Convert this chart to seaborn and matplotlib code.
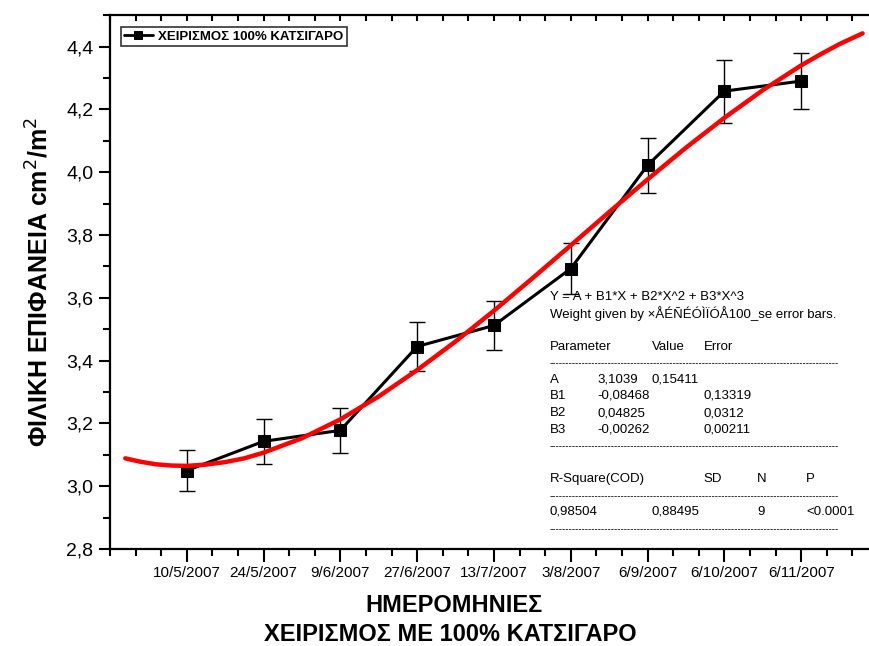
import matplotlib
matplotlib.use("Agg")
import matplotlib.pyplot as plt
import seaborn as sns
import numpy as np
import pandas as pd
from matplotlib.ticker import MultipleLocator, FuncFormatter

dates = ["10/5/2007", "24/5/2007", "9/6/2007", "27/6/2007", "13/7/2007",
         "3/8/2007", "6/9/2007", "6/10/2007", "6/11/2007"]
x_pos = [1, 2, 3, 4, 5, 6, 7, 8, 9]
values = [3.050, 3.143, 3.178, 3.445, 3.512, 3.693, 4.022, 4.258, 4.290]
errors = [0.065, 0.072, 0.072, 0.078, 0.078, 0.082, 0.088, 0.100, 0.090]

fit_x = [0.2, 0.4, 0.6, 0.8, 1.0, 1.25, 1.5, 1.75, 2.0, 2.5, 3.0, 3.5, 4.0,
         4.5, 5.0, 5.5, 6.0, 6.5, 7.0, 7.5, 8.0, 8.5, 9.0, 9.25, 9.5, 9.8]
fit_y = [3.089, 3.078, 3.070, 3.066, 3.065, 3.069, 3.077, 3.089, 3.107,
         3.153, 3.213, 3.286, 3.370, 3.461, 3.559, 3.662, 3.767, 3.873,
         3.977, 4.078, 4.173, 4.261, 4.340, 4.375, 4.408, 4.442]

sns.set_theme(style="white")
plt.rcParams['font.family'] = ['Liberation Sans', 'DejaVu Sans']
plt.rcParams['text.color'] = 'black'
plt.rcParams['axes.labelcolor'] = 'black'
plt.rcParams['xtick.color'] = 'black'
plt.rcParams['ytick.color'] = 'black'

fig = plt.figure(figsize=(8.69, 6.46), dpi=100)
ax = fig.add_axes([0.1265, 0.150, 0.8838, 0.8266])

df = pd.DataFrame({"x": x_pos, "y": values})
dfit = pd.DataFrame({"x": fit_x, "y": fit_y})

ax.errorbar(x_pos, values, yerr=errors, fmt="none", ecolor="black",
            elinewidth=1.0, capsize=6, capthick=1.0, zorder=2)
sns.lineplot(data=df, x="x", y="y", ax=ax, color="black", linewidth=2.2,
             marker="s", markersize=9, markeredgecolor="black",
             markerfacecolor="black", label="ΧΕΙΡΙΣΜΟΣ 100% ΚΑΤΣΙΓΑΡΟ",
             zorder=3)
sns.lineplot(data=dfit, x="x", y="y", ax=ax, color="#ff0000", linewidth=3.2,
             zorder=4, legend=False)

ax.set_xlim(0, 10)
ax.set_ylim(2.8, 4.5)
ax.set_xticks(x_pos)
ax.set_xticklabels(dates, fontsize=11)
ax.xaxis.set_minor_locator(MultipleLocator(1/3))
ax.yaxis.set_major_locator(MultipleLocator(0.2))
ax.yaxis.set_minor_locator(MultipleLocator(0.1))
ax.yaxis.set_major_formatter(FuncFormatter(lambda v, p: f"{v:.1f}".replace(".", ",")))

for s in ax.spines.values():
    s.set_color("black")
    s.set_linewidth(1.6)
ax.spines['right'].set_visible(False)

ax.tick_params(axis='x', which='major', direction='out', length=9, width=1.5,
               bottom=True, top=True, labelsize=11, pad=3)
ax.tick_params(axis='x', which='minor', direction='out', length=5, width=1.5,
               bottom=True, top=True)
ax.tick_params(axis='y', which='major', direction='out', length=8, width=1.5,
               left=True, labelsize=14, pad=4)
ax.tick_params(axis='y', which='minor', direction='out', length=5, width=1.5,
               left=True)
for t in ax.xaxis.get_major_ticks() + ax.xaxis.get_minor_ticks():
    t.tick2line.set_marker(3)
    t.tick2line.set_markersize(4)

ax.set_xlabel("")
ax.set_ylabel("ΦΙΛΙΚΗ ΕΠΙΦΑΝΕΙΑ cm$^2$/m$^2$", fontsize=18, fontweight="bold",
              labelpad=9)
fig.text(0.523, 0.063, "ΗΜΕΡΟΜΗΝΙΕΣ", ha="center", va="center",
         fontsize=17, fontweight="bold")
fig.text(0.518, 0.018, "ΧΕΙΡΙΣΜΟΣ ΜΕ 100% ΚΑΤΣΙΓΑΡΟ", ha="center",
         va="center", fontsize=17, fontweight="bold")

leg = ax.legend(loc="upper left", bbox_to_anchor=(0.014, 0.977),
                frameon=True, fancybox=False, fontsize=9.5, handlelength=2.2,
                borderpad=0.25, handletextpad=0.4, borderaxespad=0)
leg.get_frame().set_edgecolor("black")
leg.get_frame().set_linewidth(1.2)
for t in leg.get_texts():
    t.set_fontweight("bold")
for h in leg.legend_handles:
    h.set_markersize(6)
    h.set_linewidth(2)

def fx(px):
    return px / 869.0
def fy(py):
    return 1 - py / 646.0

fs = 9.5
fig.text(fx(550), fy(297), "Y = A + B1*X + B2*X^2 + B3*X^3", fontsize=fs, va="center")
fig.text(fx(550), fy(314), "Weight given by ×ÅÉÑÉÓÌÏÓÅ100_se error bars.", fontsize=fs, va="center")
fig.text(fx(550), fy(347), "Parameter", fontsize=fs, va="center")
fig.text(fx(652), fy(347), "Value", fontsize=fs, va="center")
fig.text(fx(704), fy(347), "Error", fontsize=fs, va="center")
dash = "-" * 89
for yy in [363, 446, 496, 529]:
    fig.text(fx(550), fy(yy), dash, fontsize=7, va="center")
rows = [("A", "3,1039", "0,15411", 380, 652),
        ("B1", "-0,08468", "0,13319", 396, 704),
        ("B2", "0,04825", "0,0312", 413, 704),
        ("B3", "-0,00262", "0,00211", 430, 704)]
for name, val, err, yy, ex in rows:
    fig.text(fx(550), fy(yy), name, fontsize=fs, va="center")
    fig.text(fx(597), fy(yy), val, fontsize=fs, va="center")
    fig.text(fx(ex), fy(yy), err, fontsize=fs, va="center")
fig.text(fx(550), fy(479), "R-Square(COD)", fontsize=fs, va="center")
fig.text(fx(703), fy(479), "SD", fontsize=fs, va="center")
fig.text(fx(757), fy(479), "N", fontsize=fs, va="center")
fig.text(fx(806), fy(479), "P", fontsize=fs, va="center")
fig.text(fx(550), fy(512), "0,98504", fontsize=fs, va="center")
fig.text(fx(652), fy(512), "0,88495", fontsize=fs, va="center")
fig.text(fx(757), fy(512), "9", fontsize=fs, va="center")
fig.text(fx(806), fy(512), "<0.0001", fontsize=fs, va="center")

fig.savefig("out.png", dpi=100)
